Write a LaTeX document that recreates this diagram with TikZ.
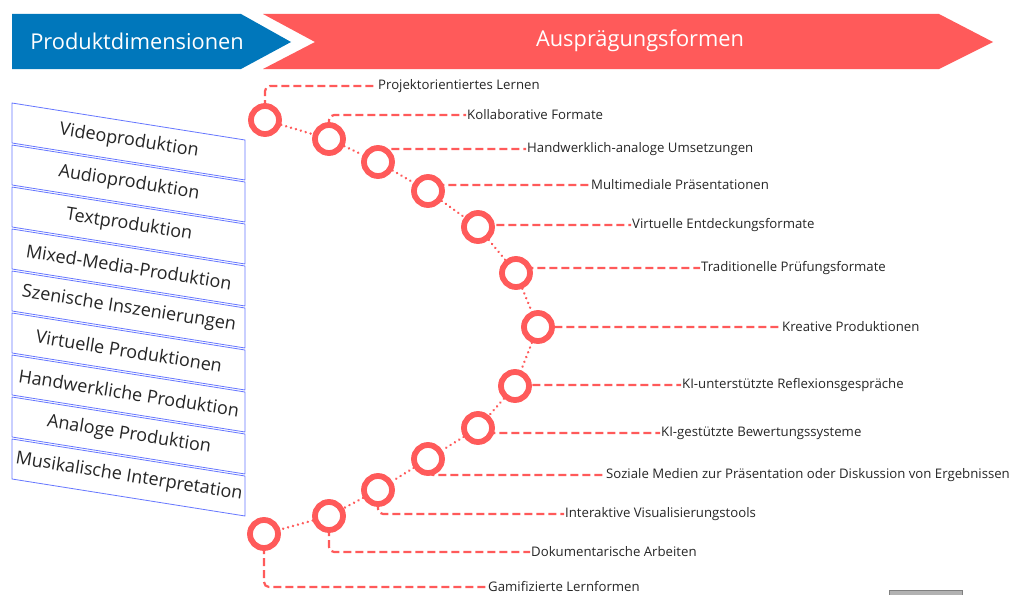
\documentclass[tikz,border=0pt]{standalone}
\usepackage{fontspec}
\setmainfont{Open Sans}
\usetikzlibrary{calc}
\definecolor{dimblue}{HTML}{0077BB}
\definecolor{formred}{HTML}{FF5A5A}
\definecolor{boxblue}{HTML}{6677FF}

\begin{document}
\begin{tikzpicture}[x=1pt, y=-1pt,
		ring/.style={circle, draw=formred, line width=5.8pt, fill=white, minimum size=28pt, inner sep=0pt},
		link/.style={draw=formred, line width=2.6pt, dash pattern=on 0.1pt off 5pt, line cap=round},
		leader/.style={draw=formred, line width=2.2pt, dash pattern=on 8pt off 4pt, rounded corners=5pt},
		form/.style={anchor=west, inner sep=1pt, text=black!85, font=\fontsize{13.2}{15}\selectfont},
		head/.style={text=white, font=\fontsize{21.8}{26}\selectfont},
		dimbox/.style={draw=boxblue, line width=0.8pt, fill=white},
		dimtext/.style={rotate=-9, inner sep=0pt, text=black!85, font=\fontsize{18}{21}\selectfont}]
			%%%%% START %%%%%
			
			\useasboundingbox (0, 0) rectangle (1019, 594);
			
			\fill[dimblue] (12, 14) -- (241, 14) -- (291, 42) -- (241, 69) -- (12, 69) -- cycle;
			\fill[formred] (263, 14) -- (939, 14) -- (993, 42) -- (939, 69) -- (263, 69) -- (315, 42) -- cycle;
			\node[head] (dimhead) at (137, 41) {Produktdimensionen};
			\node[head] (formhead) at (640, 41) {Ausprägungsformen};
			
			\draw[dimbox] (12, 103) -- (245, 140) -- (245, 180) -- (12, 143) -- cycle;
			\node[dimtext] (d1) at (129, 141) {Videoproduktion};
			\draw[dimbox] (12, 145) -- (245, 182) -- (245, 222) -- (12, 185) -- cycle;
			\node[dimtext] (d2) at (129, 183) {Audioproduktion};
			\draw[dimbox] (12, 187) -- (245, 224) -- (245, 264) -- (12, 227) -- cycle;
			\node[dimtext] (d3) at (129, 225) {Textproduktion};
			\draw[dimbox] (12, 229) -- (245, 266) -- (245, 306) -- (12, 269) -- cycle;
			\node[dimtext] (d4) at (129, 267) {Mixed-Media-Produktion};
			\draw[dimbox] (12, 271) -- (245, 308) -- (245, 348) -- (12, 311) -- cycle;
			\node[dimtext] (d5) at (129, 309) {Szenische Inszenierungen};
			\draw[dimbox] (12, 313) -- (245, 350) -- (245, 390) -- (12, 353) -- cycle;
			\node[dimtext] (d6) at (129, 351) {Virtuelle Produktionen};
			\draw[dimbox] (12, 355) -- (245, 392) -- (245, 432) -- (12, 395) -- cycle;
			\node[dimtext] (d7) at (129, 393) {Handwerkliche Produktion};
			\draw[dimbox] (12, 397) -- (245, 434) -- (245, 474) -- (12, 437) -- cycle;
			\node[dimtext] (d8) at (129, 435) {Analoge Produktion};
			\draw[dimbox] (12, 439) -- (245, 476) -- (245, 516) -- (12, 479) -- cycle;
			\node[dimtext] (d9) at (129, 477) {Musikalische Interpretation};
			
			\coordinate (p1) at (265, 120);
			\coordinate (p2) at (329, 139);
			\coordinate (p3) at (378, 162);
			\coordinate (p4) at (428, 191);
			\coordinate (p5) at (478, 227);
			\coordinate (p6) at (516, 273);
			\coordinate (p7) at (538, 327);
			\coordinate (p8) at (515, 386);
			\coordinate (p9) at (478, 428);
			\coordinate (p10) at (428, 459);
			\coordinate (p11) at (378, 490);
			\coordinate (p12) at (329, 516);
			\coordinate (p13) at (264, 534);
			
			\node[form] (l1) at (377, 86) {Projektorientiertes Lernen};
			\node[form] (l2) at (466, 115) {Kollaborative Formate};
			\node[form] (l3) at (526, 149) {Handwerklich-analoge Umsetzungen};
			\node[form] (l4) at (590, 185) {Multimediale Präsentationen};
			\node[form] (l5) at (631, 225) {Virtuelle Entdeckungsformate};
			\node[form] (l6) at (700, 268) {Traditionelle Prüfungsformate};
			\node[form] (l7) at (781, 327) {Kreative Produktionen};
			\node[form] (l8) at (681, 385) {KI-unterstützte Reflexionsgespräche};
			\node[form] (l9) at (660, 433) {KI-gestützte Bewertungssysteme};
			\node[form] (l10) at (605, 475) {Soziale Medien zur Präsentation oder Diskussion von Ergebnissen};
			\node[form] (l11) at (564, 514) {Interaktive Visualisierungstools};
			\node[form] (l12) at (530, 552) {Dokumentarische Arbeiten};
			\node[form, inner sep=0pt] (l13) at (488, 587) {Gamifizierte Lernformen};
			
			\draw[leader] (p1) |- (l1.west);
			\draw[leader] (p2) |- (l2.west);
			\draw[leader] (p3) |- (l3.west);
			\draw[leader] (p4) |- (l4.west);
			\draw[leader] (p5) |- (l5.west);
			\draw[leader] (p6) |- (l6.west);
			\draw[leader] (p7) |- (l7.west);
			\draw[leader] (p8) |- (l8.west);
			\draw[leader] (p9) |- (l9.west);
			\draw[leader] (p10) |- (l10.west);
			\draw[leader] (p11) |- (l11.west);
			\draw[leader] (p12) |- (l12.west);
			\draw[leader] (p13) |- (l13.west);
			
			\node[ring] (c1) at (p1) {};
			\node[ring] (c2) at (p2) {};
			\node[ring] (c3) at (p3) {};
			\node[ring] (c4) at (p4) {};
			\node[ring] (c5) at (p5) {};
			\node[ring] (c6) at (p6) {};
			\node[ring] (c7) at (p7) {};
			\node[ring] (c8) at (p8) {};
			\node[ring] (c9) at (p9) {};
			\node[ring] (c10) at (p10) {};
			\node[ring] (c11) at (p11) {};
			\node[ring] (c12) at (p12) {};
			\node[ring] (c13) at (p13) {};
			
			\draw[link] (c1) -- (c2);
			\draw[link] (c2) -- (c3);
			\draw[link] (c3) -- (c4);
			\draw[link] (c4) -- (c5);
			\draw[link] (c5) -- (c6);
			\draw[link] (c6) -- (c7);
			\draw[link] (c7) -- (c8);
			\draw[link] (c8) -- (c9);
			\draw[link] (c9) -- (c10);
			\draw[link] (c10) -- (c11);
			\draw[link] (c11) -- (c12);
			\draw[link] (c12) -- (c13);
			
			\draw[fill=black!30, draw=black!50] (889, 590) rectangle (962, 596);
			
			%%%%% END %%%%%
		\end{tikzpicture}
\end{document}
